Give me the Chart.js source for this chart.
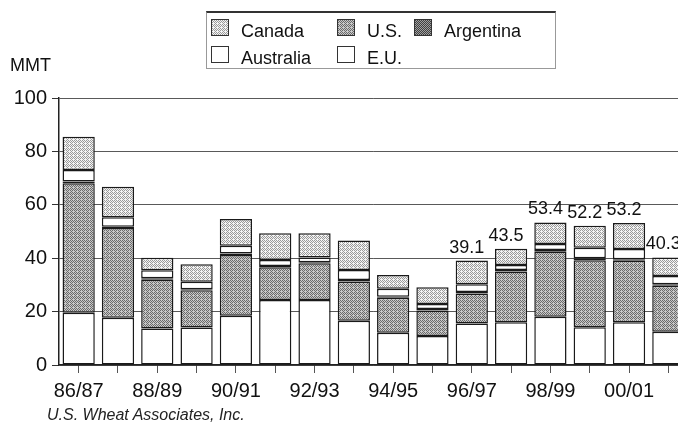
<!DOCTYPE html>
<html>
<head>
<meta charset="utf-8">
<script src="https://cdn.jsdelivr.net/npm/chart.js@4"></script>
<style>
  html, body { margin: 0; padding: 0; background: #fff; }
  #wrap { position: relative; width: 678px; height: 426px; overflow: hidden; font-family: "Liberation Sans", Arial, sans-serif; }
  #wheatChart { position: absolute; left: 0; top: 0; }
  #legend {
    position: absolute; left: 206px; top: 11px; width: 350px; height: 58px;
    border: 1px solid #999; border-top: 2px solid #333; box-sizing: border-box;
    padding: 5px 0 0 4px;
    display: grid; grid-template-columns: 126px 77px auto; grid-auto-rows: 27px;
  }
  .item { display: flex; align-items: flex-start; font-size: 18px; line-height: 27px; color: #111; white-space: nowrap; }
  .swatch { width: 16px; height: 15px; border: 1px solid #333; margin: 1px 12px 0 0; flex: none; }
  #unit { position: absolute; left: 10px; top: 55px; font-size: 18px; color: #111; }
  #source { position: absolute; left: 47px; top: 406px; font-size: 16px; font-style: italic; color: #222; }
</style>
</head>
<body>
<div id="wrap">
  <canvas id="wheatChart" width="700" height="426"></canvas>
  <div id="legend"></div>
  <div id="unit">MMT</div>
  <div id="source">U.S. Wheat Associates, Inc.</div>
</div>
<script>
// wheat ending stocks, million metric tons
const categories = ['86/87', '87/88', '88/89', '89/90', '90/91', '91/92', '92/93', '93/94',
                    '94/95', '95/96', '96/97', '97/98', '98/99', '99/00', '00/01', '01/02'];
const euStocks        = [19.6, 17.7, 13.7, 14.0, 18.4, 24.3, 24.3, 16.6, 12.1, 10.9, 15.5, 16.0, 18.1, 14.1, 16.0, 12.5];
const usStocks        = [48.5, 33.6, 18.2, 14.0, 22.8, 12.3, 13.8, 14.7, 13.1,  9.5, 11.3, 19.0, 24.3, 25.1, 23.0, 17.2];
const argentinaStocks = [ 0.6,  0.5,  0.6,  0.4,  0.6,  0.5,  0.4,  0.5,  0.4,  0.6,  0.5,  0.6,  0.7,  0.8,  0.6,  0.5];
const australiaStocks = [ 4.3,  3.5,  3.0,  2.8,  2.9,  2.2,  1.8,  3.8,  3.0,  1.8,  2.9,  1.9,  2.2,  3.9,  3.8,  3.1];
const canadaStocks    = [12.5, 11.5,  4.7,  6.5, 10.0, 10.0,  9.0, 11.0,  5.1,  6.3,  8.9,  6.0,  8.1,  8.3,  9.8,  7.0];
const totalLabels = [null, null, null, null, null, null, null, null, null, null,
                     '39.1', '43.5', '53.4', '52.2', '53.2', '40.3'];
const yTicks = [0, 20, 40, 60, 80, 100];
const legendOrder = ['Canada', 'U.S.', 'Argentina', 'Australia', 'E.U.'];

// small ordered-dither tile to mimic the halftone fills
const bayer = [0, 8, 2, 10, 12, 4, 14, 6, 3, 11, 1, 9, 15, 7, 13, 5];
function makeTile(light, dark, n) {
    const c = document.createElement('canvas');
    c.width = 4; c.height = 4;
    const g = c.getContext('2d');
    g.fillStyle = light;
    g.fillRect(0, 0, 4, 4);
    g.fillStyle = dark;
    bayer.forEach((v, i) => { if (v < n) g.fillRect(i % 4, Math.floor(i / 4), 1, 1); });
    return c;
}
const ctx = document.getElementById('wheatChart').getContext('2d');
const tiles = {
    canada: makeTile('#f4f4f4', '#9a9a9a', 7),
    us: makeTile('#c8c8c8', '#6a6a6a', 7),
    argentina: makeTile('#a0a0a0', '#404040', 8)
};
const fills = {
    canada: ctx.createPattern(tiles.canada, 'repeat'),
    us: ctx.createPattern(tiles.us, 'repeat'),
    argentina: ctx.createPattern(tiles.argentina, 'repeat'),
    white: '#ffffff'
};

function barSet(label, data, fill, swatch) {
    return {
        label: label,
        data: data,
        backgroundColor: fill,
        swatch: swatch,
        borderColor: '#1a1a1a',
        borderWidth: 1.5,
        borderSkipped: false,
        barPercentage: 0.82,
        categoryPercentage: 1.0
    };
}

const totalsPlugin = {
    id: 'totals',
    afterDatasetsDraw(chart) {
        const meta = chart.getDatasetMeta(chart.data.datasets.length - 1);
        const c = chart.ctx;
        c.save();
        c.font = '18px "Liberation Sans", Arial, sans-serif';
        c.fillStyle = '#111';
        c.textAlign = 'center';
        c.textBaseline = 'alphabetic';
        meta.data.forEach((bar, i) => {
            if (!totalLabels[i]) return;
            c.fillText(totalLabels[i], bar.x - 5, bar.y - 8);
        });
        c.restore();
    }
};

const chart = new Chart(ctx, {
    type: 'bar',
    data: {
        labels: categories,
        datasets: [
            barSet('E.U.', euStocks, fills.white, '#fff'),
            barSet('U.S.', usStocks, fills.us, tiles.us.toDataURL()),
            barSet('Argentina', argentinaStocks, fills.argentina, tiles.argentina.toDataURL()),
            barSet('Australia', australiaStocks, fills.white, '#fff'),
            barSet('Canada', canadaStocks, fills.canada, tiles.canada.toDataURL())
        ]
    },
    options: {
        responsive: false,
        animation: false,
        layout: { padding: { top: 98, right: 12, left: 0, bottom: 0 } },
        plugins: {
            legend: { display: false },
            tooltip: { enabled: false }
        },
        scales: {
            x: {
                stacked: true,
                afterFit(scale) { scale.height = 61; },
                grid: {
                    offset: false,
                    drawOnChartArea: false,
                    drawTicks: true,
                    tickLength: 8,
                    color: '#555'
                },
                border: { display: true, color: '#222', width: 1.5 },
                ticks: {
                    autoSkip: false,
                    maxRotation: 0,
                    minRotation: 0,
                    padding: 6,
                    color: '#111',
                    font: { family: '"Liberation Sans", Arial, sans-serif', size: 20 },
                    callback: (val, i) => (i % 2 === 0 ? categories[i] : '')
                }
            },
            y: {
                stacked: true,
                min: 0,
                max: 100,
                afterFit(scale) { scale.width = 59; },
                afterBuildTicks(scale) {
                    const t = [];
                    for (let v = 0; v <= 100; v += 10) t.push({ value: v });
                    scale.ticks = t;
                },
                grid: {
                    color: 'rgba(0,0,0,0.65)',
                    lineWidth: 1,
                    tickLength: 7,
                    tickColor: '#333'
                },
                border: { display: true, color: '#222', width: 1.5 },
                ticks: {
                    padding: 5,
                    color: '#111',
                    font: { family: '"Liberation Sans", Arial, sans-serif', size: 20 },
                    callback: v => (yTicks.includes(v) ? v : '')
                }
            }
        }
    },
    plugins: [totalsPlugin]
});

// legend box: Canada, U.S., Argentina / Australia, E.U.
const legendBox = document.getElementById('legend');
legendOrder.forEach(name => {
    const ds = chart.data.datasets.find(d => d.label === name);
    const item = document.createElement('div');
    item.className = 'item';
    const sw = document.createElement('span');
    sw.className = 'swatch';
    if (ds.swatch.startsWith('data:')) sw.style.backgroundImage = `url(${ds.swatch})`;
    else sw.style.background = ds.swatch;
    item.appendChild(sw);
    item.appendChild(document.createTextNode(ds.label));
    legendBox.appendChild(item);
});
</script>
</body>
</html>
